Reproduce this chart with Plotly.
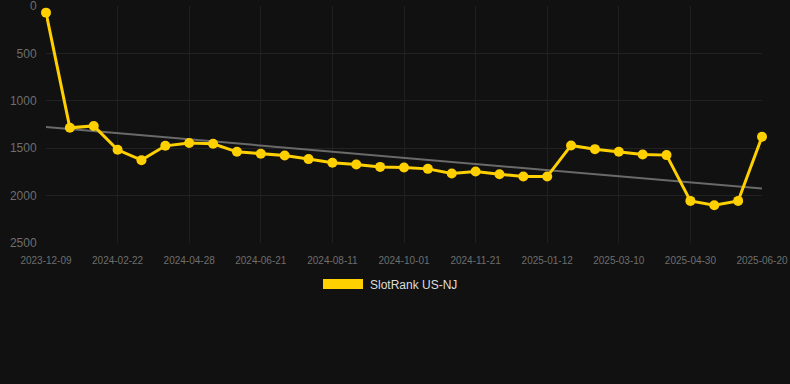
import plotly.graph_objects as go

# ---- data ----
tick_labels = ["2023-12-09", "2024-02-22", "2024-04-28", "2024-06-21", "2024-08-11",
               "2024-10-01", "2024-11-21", "2025-01-12", "2025-03-10", "2025-04-30",
               "2025-06-20"]
rank_values = [70, 1285, 1265, 1517, 1626, 1475, 1446, 1453, 1538, 1559,
               1577, 1615, 1654, 1672, 1697, 1704, 1718, 1767, 1746, 1774,
               1799, 1799, 1471, 1510, 1538, 1566, 1573, 2056, 2101, 2056,
               1380]
trend_values = [1277, 1926]
y_ticks = [0, 500, 1000, 1500, 2000, 2500]
series_name = "SlotRank US-NJ"

x_idx = list(range(len(rank_values)))
tick_pos = x_idx[::3]

BG = "#111111"
GOLD = "#FFD000"

fig = go.Figure()
fig.add_trace(go.Scatter(
    x=[x_idx[0], x_idx[-1]], y=trend_values, mode="lines",
    line=dict(color="#6a6a6a", width=2), showlegend=False, hoverinfo="skip"))
fig.add_trace(go.Scatter(
    x=x_idx, y=rank_values, mode="lines+markers", name=series_name,
    line=dict(color=GOLD, width=3), marker=dict(color=GOLD, size=10),
    showlegend=False, cliponaxis=False))

fig.update_layout(
    width=790, height=384,
    paper_bgcolor=BG, plot_bgcolor=BG,
    margin=dict(l=46, r=28, t=6, b=141, autoexpand=False),
    font=dict(family="Arial, Liberation Sans, sans-serif", color="#6e6e6e"),
    xaxis=dict(range=[0, len(rank_values) - 1], tickvals=tick_pos, ticktext=tick_labels,
               showgrid=True, gridcolor="#1f1f1f", gridwidth=1, zeroline=False,
               showline=False, tickfont=dict(size=10, color="#6e6e6e"),
               ticks="outside", ticklen=8, tickcolor=BG, automargin=False,
               ticklabeloverflow="allow"),
    yaxis=dict(range=[2500, 0], tickvals=y_ticks,
               showgrid=True, gridcolor="#222222", gridwidth=1, zeroline=False,
               showline=False, tickfont=dict(size=12, color="#6e6e6e"),
               ticks="outside", ticklen=6, tickcolor=BG, automargin=False,
               ticklabeloverflow="allow"),
    showlegend=False,
)

# manual legend
fig.add_shape(type="rect", xref="paper", yref="paper",
              x0=(323 - 46) / 716, x1=(363 - 46) / 716,
              y0=(243 - 289) / 237, y1=(243 - 279) / 237,
              fillcolor=GOLD, line=dict(width=0))
fig.add_annotation(text=series_name, xref="paper", yref="paper",
                   x=(368 - 46) / 716, y=(243 - 284.5) / 237,
                   xanchor="left", yanchor="middle", showarrow=False,
                   font=dict(size=12, color="#dddddd"))

fig.write_html("out.html", config={"displayModeBar": False},
               post_script="document.body.style.margin='0';document.body.style.background='#111111';")
